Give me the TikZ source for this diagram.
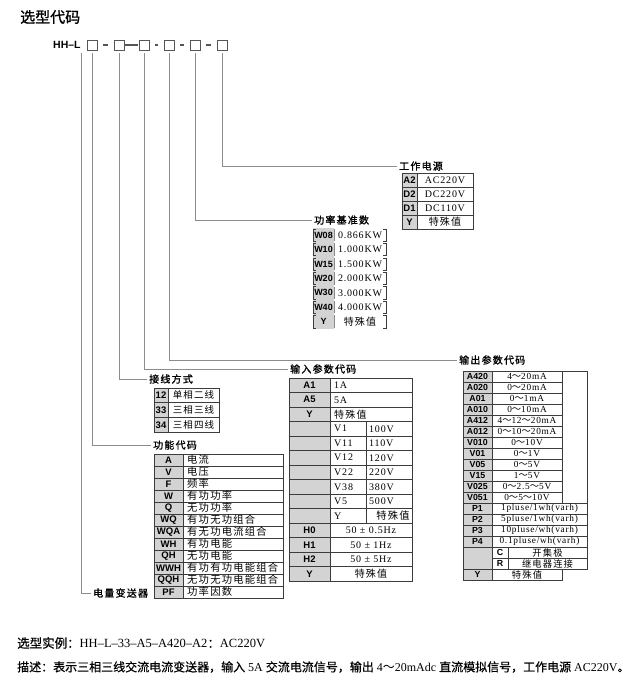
\documentclass[tikz,border=0pt]{standalone}
\usepackage{fontspec}
\setmainfont{Liberation Serif}
\newfontfamily\cjk{Noto Sans CJK SC}
\newfontfamily\cjkt[LetterSpace=12]{Noto Sans CJK SC}
\newfontfamily\cjkb[FakeBold=1.2]{Noto Sans CJK SC}
\newfontfamily\cjkm[FakeBold=0.6]{Noto Sans CJK SC}
\newfontfamily\cjkbt[FakeBold=1.2,LetterSpace=12]{Noto Sans CJK SC}
\newfontfamily\codef{Liberation Sans}
\newfontfamily\valf[LetterSpace=8]{Liberation Serif}
\newcommand\tld{{\cjk ～}}
\definecolor{tline}{HTML}{3C3C3C}
\definecolor{codegrey}{HTML}{D3D3D3}
\definecolor{lgrey}{HTML}{8C8C8C}
\definecolor{bgrey}{HTML}{555555}
\begin{document}
\begin{tikzpicture}[x=1pt,y=-1pt,
  sz/.style 2 args={minimum width=#1pt,minimum height=#2pt},
  cellb/.style={draw=tline,line width=0.6pt,inner sep=0pt,outer sep=0pt,anchor=north west,text=black},
  codec/.style={cellb,fill=codegrey,font=\codef\bfseries\fontsize{9.5}{9.5}\selectfont},
  codes/.style={cellb,fill=codegrey,font=\codef\bfseries\fontsize{8.8}{8.8}\selectfont},
  valc/.style={cellb,fill=white,font=\valf\fontsize{10}{10}\selectfont},
  vals/.style={cellb,fill=white,font=\valf\fontsize{9.3}{9.3}\selectfont},
  valtxt/.style={anchor=west,inner sep=0pt,font=\valf\fontsize{10}{10}\selectfont},
  cjktxt/.style={anchor=west,inner sep=0pt,font=\cjkt\fontsize{10.3}{10.3}\selectfont},
  lbl/.style={anchor=west,inner sep=2pt,font=\cjkbt\fontsize{10}{10}\selectfont},
  conn/.style={draw=lgrey,line width=0.9pt},
  codebox/.style={draw=bgrey,line width=0.9pt,minimum size=10pt,inner sep=0pt},
  shortdash/.style={draw=bgrey,line width=1.1pt,shorten <=5.5pt,shorten >=5.5pt},
  longdash/.style={draw=bgrey,line width=1.1pt,shorten <=1pt,shorten >=1pt},
  pwc/.style={fill=codegrey,inner sep=0pt,outer sep=0pt,anchor=north west,font=\codef\bfseries\fontsize{9}{9}\selectfont},
  pwv/.style={inner sep=0pt,outer sep=0pt,anchor=north west,font=\valf\fontsize{10}{10}\selectfont},
  brk/.style={draw=tline,line width=0.6pt}
]
\useasboundingbox (0,0) rectangle (636,692);
\fill[white] (0,0) rectangle (636,692);

% title
\node[anchor=west,inner sep=0pt,font=\cjkb\fontsize{15}{15}\selectfont] (title) at (20,17) {选型代码};

% code line
\node[anchor=west,inner sep=0pt,font=\codef\bfseries\fontsize{10.5}{10.5}\selectfont] (hhl) at (53,45) {HH–L};
\node[codebox] (b1) at (92,45) {};
\node[codebox] (b2) at (119,45) {};
\node[codebox] (b3) at (144,45) {};
\node[codebox] (b4) at (169,45) {};
\node[codebox] (b5) at (195,45) {};
\node[codebox] (b6) at (222,45) {};
\draw[shortdash] (b1.east) -- (b2.west);
\draw[longdash] (b2.east) -- (b3.west);
\draw[shortdash] (b3.east) -- (b4.west);
\draw[shortdash] (b4.east) -- (b5.west);
\draw[shortdash] (b5.east) -- (b6.west);
\coordinate (lx) at (81,53);

% labels
\node[lbl] (lps) at (397,166) {工作电源};
\node[lbl] (lpw) at (312,220) {功率基准数};
\node[lbl] (lout) at (457,360) {输出参数代码};
\node[lbl] (lin) at (288,369) {输入参数代码};
\node[lbl] (lwire) at (147,379) {接线方式};
\node[lbl] (lfunc) at (151,445) {功能代码};
\node[lbl] (lem) at (91,593) {电量变送器};

% connectors
\draw[conn,shorten <=3pt] (b6.south) |- (lps.west);
\draw[conn,shorten <=3pt] (b5.south) |- (lpw.west);
\draw[conn,shorten <=3pt] (b4.south) |- (lout.west);
\draw[conn,shorten <=3pt] (b3.south) |- (lin.west);
\draw[conn,shorten <=3pt] (b2.south) |- (lwire.west);
\draw[conn,shorten <=3pt] (b1.south) |- (lfunc.west);
\draw[conn] (lx) |- (lem.west);

% power supply table
\foreach \c/\v [count=\i from 0] in {A2/AC220V, D2/DC220V, D1/DC110V, Y/{\cjkt 特殊值}}{
  \node[codec,sz={15}{14}] (psc\i) at (402,{173+14*\i}) {\c};
  \node[valc,sz={56}{14},font=\valf\fontsize{10}{10}\selectfont] (psv\i) at (417,{173+14*\i}) {\v};
}

% power rating table
\foreach \c/\v [count=\i from 0] in {W08/0.866KW, W10/1.000KW, W15/1.500KW, W20/2.000KW, W30/3.000KW, W40/4.000KW, Y/{\cjkt 特殊值}}{
  \node[pwc,sz={21}{14.4}] (pwc\i) at (313,{228+14.4*\i}) {\c};
  \node[pwv,sz={52}{14.4}] (pwv\i) at (334,{228+14.4*\i}) {\v};
  \draw[brk] ([xshift=3pt,yshift=-1pt]pwc\i.north west) -- ([yshift=-1pt]pwc\i.north west) -- ([yshift=1pt]pwc\i.south west) -- ([xshift=3pt,yshift=1pt]pwc\i.south west);
  \draw[brk] ([xshift=-3pt,yshift=-1pt]pwv\i.north east) -- ([yshift=-1pt]pwv\i.north east) -- ([yshift=1pt]pwv\i.south east) -- ([xshift=-3pt,yshift=1pt]pwv\i.south east);
  \draw[draw=tline!60,line width=0.5pt] ([yshift=-1pt]pwc\i.north east) -- ([yshift=1pt]pwc\i.south east);
}

% wiring table
\foreach \c/\v [count=\i from 0] in {12/单相二线, 33/三相三线, 34/三相四线}{
  \node[codec,sz={14}{14.7}] (wc\i) at (154,{388+14.7*\i}) {\c};
  \node[valc,sz={51}{14.7},font=\cjkt\fontsize{9.5}{9.5}\selectfont] (wv\i) at (168,{388+14.7*\i}) {\v};
}

% function table
\foreach \c/\v [count=\i from 0] in {A/电流, V/电压, F/频率, W/有功功率, Q/无功功率, WQ/有功无功组合, WQA/有无功电流组合, WH/有功电能, QH/无功电能, WWH/有功有功电能组合, QQH/无功无功电能组合, PF/功率因数}{
  \node[codec,sz={29}{12}] (fc\i) at (154,{454+12*\i}) {\c};
  \node[valc,sz={100}{12}] (fv\i) at (183,{454+12*\i}) {};
  \node[cjktxt] (ft\i) at ([xshift=4pt]fv\i.west) {\v};
}

% input table
\foreach \c/\v [count=\i from 0] in {A1/1A, A5/5A, Y/{\cjkt 特殊值}}{
  \node[codec,sz={41}{14.5}] (inc\i) at (289,{378+14.5*\i}) {\c};
  \node[valc,sz={82}{14.5}] (inv\i) at (330,{378+14.5*\i}) {};
  \node[valtxt] (int\i) at ([xshift=4pt]inv\i.west) {\v};
}
\foreach \n/\v [count=\i from 3] in {V1/100V, V11/110V, V12/120V, V22/220V, V38/380V, V5/500V, Y/{}}{
  \node[codec,sz={41}{14.5}] (inc\i) at (289,{378+14.5*\i}) {};
  \node[valc,sz={36}{14.5}] (inn\i) at (330,{378+14.5*\i}) {};
  \node[valtxt] (innt\i) at ([xshift=4pt]inn\i.west) {\n};
  \node[valc,sz={46}{14.5}] (inv\i) at (366,{378+14.5*\i}) {};
  \node[valtxt] (int\i) at ([xshift=3pt]inv\i.west) {\v};
}
\node[cjktxt,anchor=east] (inty) at ([xshift=-2pt]inv9.east) {特殊值};
\foreach \c/\v [count=\i from 10] in {H0/{50 ± 0.5Hz}, H1/{50 ± 1Hz}, H2/{50 ± 5Hz}, Y/{\cjkt 特殊值}}{
  \node[codec,sz={41}{14.5}] (inc\i) at (289,{378+14.5*\i}) {\c};
  \node[valc,sz={82}{14.5}] (inv\i) at (330,{378+14.5*\i}) {\v};
}

% output table
\foreach \c/\v [count=\i from 0] in {A420/4\tld20mA, A020/0\tld20mA, A01/0\tld1mA, A010/0\tld10mA, A412/4\tld12\tld20mA, A012/0\tld10\tld20mA, V010/0\tld10V, V01/0\tld1V, V05/0\tld5V, V15/1\tld5V, V025/0\tld2.5\tld5V, V051/0\tld5\tld10V}{
  \node[codes,sz={29}{11}] (oc\i) at (463,{371+11*\i}) {\c};
  \node[vals,sz={70}{11}] (ov\i) at (492,{371+11*\i}) {\v};
}
\node[cellb,sz={25}{132}] (oblank) at (562,371) {};
\foreach \c/\v [count=\i from 12] in {P1/{1pluse/1wh(varh)}, P2/{5pluse/1wh(varh)}, P3/{10pluse/wh(varh)}, P4/{0.1pluse/wh(varh)}}{
  \node[codes,sz={29}{11}] (oc\i) at (463,{371+11*\i}) {\c};
  \node[vals,sz={95}{11}] (ov\i) at (492,{371+11*\i}) {\v};
}
\node[codes,sz={29}{22}] (ocr) at (463,547) {};
\node[codes,fill=white,sz={16}{11}] (occ) at (492,547) {C};
\node[vals,sz={79}{11},font=\cjkt\fontsize{9.3}{9.3}\selectfont] (ovc) at (508,547) {开集极};
\node[codes,fill=white,sz={16}{11}] (ocrr) at (492,558) {R};
\node[vals,sz={79}{11},font=\cjkt\fontsize{9.3}{9.3}\selectfont] (ovr) at (508,558) {继电器连接};
\node[codes,sz={29}{11}] (ocy) at (463,569) {Y};
\node[vals,sz={70}{11},font=\cjkt\fontsize{9.3}{9.3}\selectfont] (ovy) at (492,569) {特殊值};

% bottom texts
\node[anchor=west,inner sep=0pt,font=\fontsize{12.5}{12.5}\selectfont] (ex) at (17,643) {{\cjkm 选型实例：}HH–L–33–A5–A420–A2{\cjkm ：}AC220V};
\node[anchor=west,inner sep=0pt,font=\fontsize{12}{12}\selectfont] (desc) at (17,667) {{\cjkm 描述：表示三相三线交流电流变送器，输入}~5A~{\cjkm 交流电流信号，输出}~4{\cjk ～}20mAdc~{\cjkm 直流模拟信号，工作电源}~AC220V{\cjkm 。}};
\end{tikzpicture}
\end{document}
